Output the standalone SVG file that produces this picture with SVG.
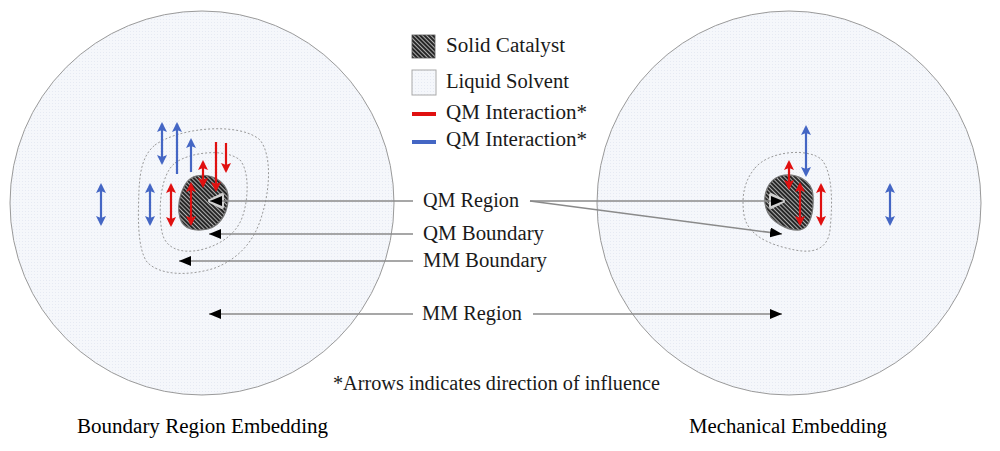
<svg xmlns="http://www.w3.org/2000/svg" width="1000" height="451" viewBox="0 0 1000 451">
<style>
.t{font-family:"Liberation Serif","DejaVu Serif",serif;font-size:20.5px;fill:#1a1a1a}
.cap{font-family:"Liberation Serif","DejaVu Serif",serif;font-size:20.5px;fill:#000}
.disk{fill:url(#solvent);stroke:#9a9a9a;stroke-width:1}
.cat{fill:url(#hatch);stroke:#777;stroke-width:1.2}
.bnd{fill:none;stroke:#999;stroke-width:1;stroke-dasharray:2 2}
.lead{fill:none;stroke:#8a8a8a;stroke-width:1.5}
.red{fill:none;stroke:#e01010;stroke-width:2.2}
.blue{fill:none;stroke:#4466c4;stroke-width:2.2}
.glow{fill:#e6e6e6;stroke:#d0d0d0;stroke-width:4;stroke-linejoin:round}
</style>
<defs>
<pattern id="solvent" patternUnits="userSpaceOnUse" width="3" height="3">
<rect width="3" height="3" fill="#f5f7fb"/>
<rect x="1" y="1" width="1" height="1" fill="#e6eaf3"/>
</pattern>
<pattern id="hatch" patternUnits="userSpaceOnUse" width="3" height="3" patternTransform="rotate(-45)">
<rect width="3" height="3" fill="#262626"/>
<rect x="0" y="0" width="1" height="3" fill="#b0b0b0"/>
</pattern>
<marker id="blk" viewBox="0 0 12 10" refX="12" refY="5" markerWidth="12" markerHeight="10" markerUnits="userSpaceOnUse" orient="auto">
<path d="M0,0 L12,5 L0,10 Z" fill="#000"/>
</marker>
<marker id="rh" viewBox="0 0 10 10" refX="8" refY="5" markerWidth="10" markerHeight="10" markerUnits="userSpaceOnUse" orient="auto-start-reverse">
<path d="M0,0 L10,5 L0,10 L2,5 Z" fill="#e01010"/>
</marker>
<marker id="bh" viewBox="0 0 10 10" refX="8" refY="5" markerWidth="10" markerHeight="10" markerUnits="userSpaceOnUse" orient="auto-start-reverse">
<path d="M0,0 L10,5 L0,10 L2,5 Z" fill="#4466c4"/>
</marker>
</defs>

<g id="left-embedding">
<circle class="disk" cx="202" cy="203" r="192"/>
<path id="left-mm-boundary" class="bnd" d="M155 145 C180 127,240 122,260 140 C272 155,270 190,262 215 C255 240,240 258,215 268 C190 276,160 276,147 262 C137 248,138 215,139 190 C140 170,143 155,155 145 Z"/>
<path id="left-qm-boundary" class="bnd" d="M175 163 C190 152,225 148,240 160 C250 172,248 200,243 215 C238 232,222 245,200 250 C180 254,165 248,162 232 C158 210,160 175,175 163 Z"/>
<path id="left-catalyst" class="cat" d="M196 176 C210 173,226 180,228 195 C229 210,222 225,208 229 C195 232,183 229,180 218 C176 205,182 179,196 176 Z"/>
</g>

<g id="right-embedding">
<circle class="disk" cx="789" cy="203" r="192"/>
<path id="right-qm-boundary" class="bnd" d="M755 168 C770 150,810 148,822 160 C834 175,832 210,830 230 C828 248,815 254,795 250 C775 246,748 238,744 215 C741 195,745 180,755 168 Z"/>
<path id="right-catalyst" class="cat" d="M780 176 C795 172,812 180,813 195 C814 210,811 228,800 230 C788 231,770 222,766 208 C762 195,768 180,780 176 Z"/>
</g>

<g id="interaction-arrows">
<path class="blue" d="M101 185 V224" marker-start="url(#bh)" marker-end="url(#bh)"/>
<path class="blue" d="M150 185 V224" marker-start="url(#bh)" marker-end="url(#bh)"/>
<path class="blue" d="M162 124 V163" marker-start="url(#bh)" marker-end="url(#bh)"/>
<path class="blue" d="M177 174 V124" marker-end="url(#bh)"/>
<path class="blue" d="M191 172 V140" marker-end="url(#bh)"/>
<path class="red" d="M171 185 V225" marker-start="url(#rh)" marker-end="url(#rh)"/>
<path class="red" d="M191 184 V224" marker-start="url(#rh)" marker-end="url(#rh)"/>
<path class="red" d="M203 162 V186" marker-start="url(#rh)" marker-end="url(#rh)"/>
<path class="red" d="M216 142 V190" marker-end="url(#rh)"/>
<path class="red" d="M226 143 V171" marker-end="url(#rh)"/>
<path class="blue" d="M806 127 V175" marker-start="url(#bh)" marker-end="url(#bh)"/>
<path class="blue" d="M890 185 V224" marker-start="url(#bh)" marker-end="url(#bh)"/>
<path class="red" d="M789 162 V188" marker-start="url(#rh)" marker-end="url(#rh)"/>
<path class="red" d="M800 184 V224" marker-start="url(#rh)" marker-end="url(#rh)"/>
<path class="red" d="M821 185 V224" marker-start="url(#rh)" marker-end="url(#rh)"/>
</g>

<g id="connectors">
<polygon class="glow" points="210,201 222,195 222,207"/>
<polygon class="glow" points="783,201 771,195 771,207"/>
<path class="lead" d="M413 201 H210" marker-end="url(#blk)"/>
<path class="lead" d="M413 234 H209" marker-end="url(#blk)"/>
<path class="lead" d="M413 261 H179" marker-end="url(#blk)"/>
<path class="lead" d="M413 314 H209" marker-end="url(#blk)"/>
<path class="lead" d="M530 201 H783" marker-end="url(#blk)"/>
<path class="lead" d="M530 201 L782 234" marker-end="url(#blk)"/>
<path class="lead" d="M533 314 H782" marker-end="url(#blk)"/>
</g>

<g id="labels">
<text class="t" x="423" y="207" textLength="96" lengthAdjust="spacingAndGlyphs">QM Region</text>
<text class="t" x="423" y="240" textLength="121" lengthAdjust="spacingAndGlyphs">QM Boundary</text>
<text class="t" x="423" y="267" textLength="124" lengthAdjust="spacingAndGlyphs">MM Boundary</text>
<text class="t" x="422" y="320" textLength="100" lengthAdjust="spacingAndGlyphs">MM Region</text>
<text class="t" x="333" y="390" textLength="327" lengthAdjust="spacingAndGlyphs">*Arrows indicates direction of influence</text>
<text class="cap" x="77" y="433" textLength="251" lengthAdjust="spacingAndGlyphs">Boundary Region Embedding</text>
<text class="cap" x="689" y="433" textLength="198" lengthAdjust="spacingAndGlyphs">Mechanical Embedding</text>
</g>

<g id="legend">
<g id="legend-solid"><rect x="412" y="35" width="23" height="23" fill="url(#hatch)" stroke="#555" stroke-width="0.8"/><text class="t" x="446" y="52" textLength="119" lengthAdjust="spacingAndGlyphs">Solid Catalyst</text></g>
<g id="legend-liquid"><rect x="412" y="70" width="24" height="25" fill="url(#solvent)" stroke="#aaa" stroke-width="1"/><text class="t" x="446" y="88" textLength="123" lengthAdjust="spacingAndGlyphs">Liquid Solvent</text></g>
<g id="legend-red"><line x1="412" y1="114" x2="436" y2="114" stroke="#e01010" stroke-width="4"/><text class="t" x="446" y="119" textLength="141" lengthAdjust="spacingAndGlyphs">QM Interaction*</text></g>
<g id="legend-blue"><line x1="412" y1="142" x2="436" y2="142" stroke="#4466c4" stroke-width="4"/><text class="t" x="446" y="146" textLength="141" lengthAdjust="spacingAndGlyphs">QM Interaction*</text></g>
</g>
</svg>
